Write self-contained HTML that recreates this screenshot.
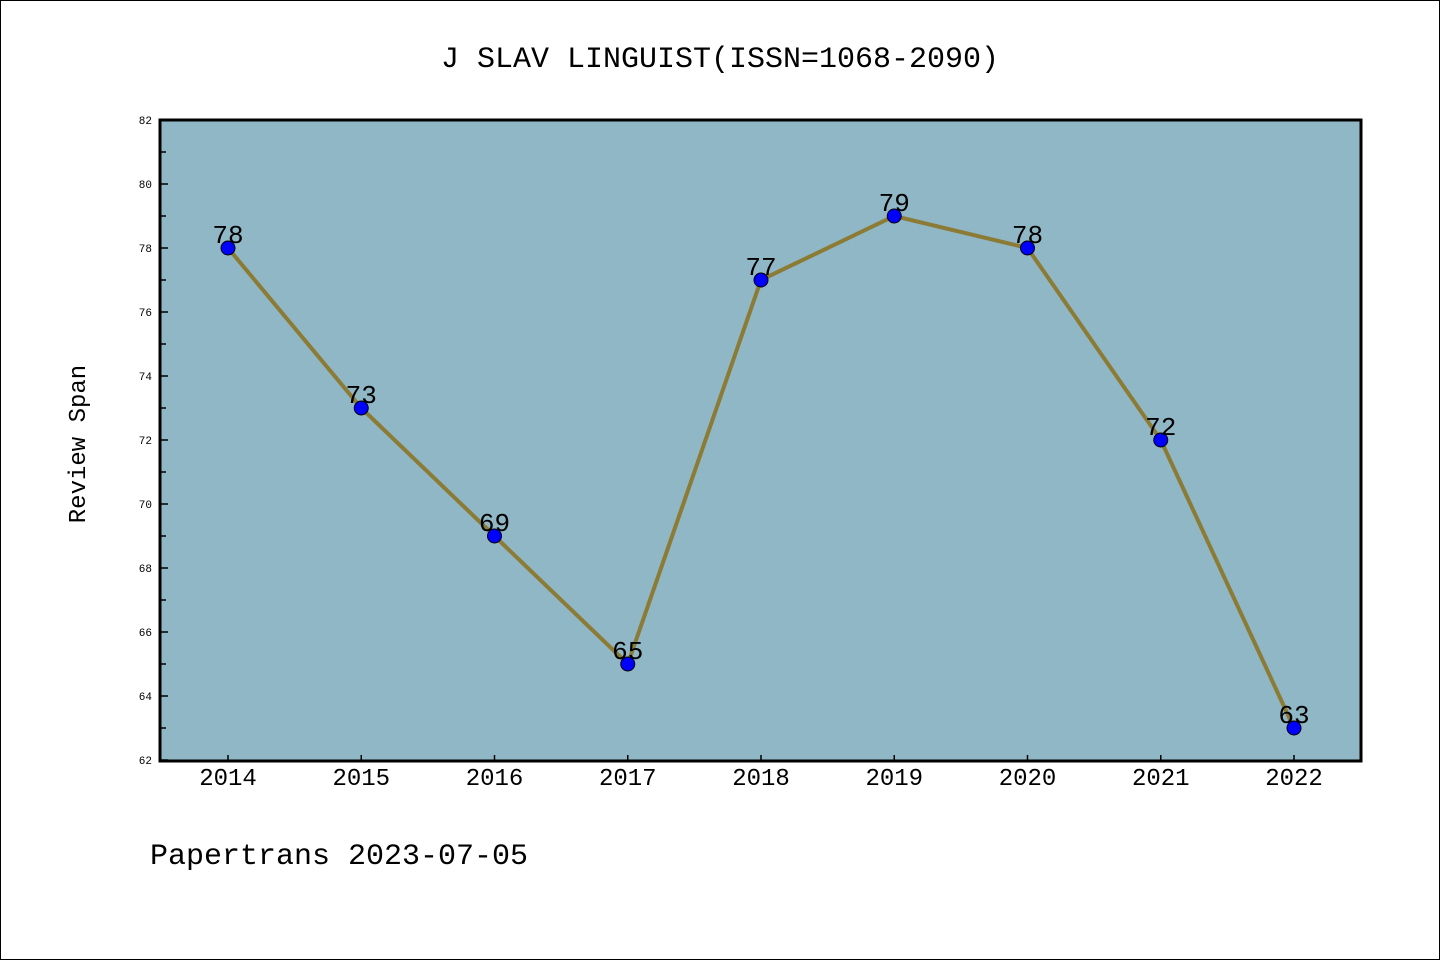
<!DOCTYPE html>
<html><head><meta charset="utf-8"><style>
html,body{margin:0;padding:0;background:#fff;}
svg{display:block;font-family:"Liberation Mono","WenQuanYi Zen Hei",monospace;}
</style></head><body>
<svg id="chart" width="1440" height="960" viewBox="0 0 1440 960">
<rect x="0.5" y="0.5" width="1439" height="959" fill="#fff" stroke="#000"/>
<text x="720" y="67" font-size="30" text-anchor="middle">J SLAV LINGUIST(ISSN=1068-2090)</text>
<rect x="160" y="120" width="1201" height="641" fill="#8fb7c5"/>
<g id="axes"></g>
<g id="series"></g>
<rect x="160" y="120" width="1201" height="641" fill="none" stroke="#000" stroke-width="3"/>
<text x="85" y="444" font-size="24" text-anchor="middle" transform="rotate(-90 85 444)">Review Span</text>
<text x="150" y="864" font-size="30">Papertrans 2023-07-05</text>
</svg>
<script>
const years = ["2014","2015","2016","2017","2018","2019","2020","2021","2022"];
const spans = [78,73,69,65,77,79,78,72,63];
const yTicks = [62,64,66,68,70,72,74,76,78,80,82];
(function(){
const NS="http://www.w3.org/2000/svg";
const yMin=62,yMax=82,plotTop=120,plotBot=760;
function yS(v){return plotBot-(v-yMin)/(yMax-yMin)*(plotBot-plotTop);}
function xS(i){return 228+i*(1294-228)/(years.length-1);}
function mk(t,a,p){const e=document.createElementNS(NS,t);for(const k in a)e.setAttribute(k,a[k]);p.appendChild(e);return e;}
const ax=document.getElementById('axes'),se=document.getElementById('series');
yTicks.forEach(v=>{
  const y=yS(v);
  const l=mk('line',{x1:160,x2:168,y1:y,y2:y,stroke:'#000','stroke-width':1.5},ax);
  
  
  const t=mk('text',{x:152,y:y+4,'font-size':11,'text-anchor':'end'},ax);
  
  
  t.textContent=v;
  if(v<yMax){const ym=yS(v+1);
    const m=mk('line',{x1:160,x2:166,y1:ym,y2:ym,stroke:'#000','stroke-width':1.5},ax);
    
    }
});
years.forEach((yr,i)=>{
  const x=xS(i);
  const l=mk('line',{x1:x,x2:x,y1:760,y2:755,stroke:'#000','stroke-width':1.5},ax);
  
  
  const t=mk('text',{x:x,y:785,'font-size':24,'text-anchor':'middle'},ax);
  
  
  t.textContent=yr;
});
const pts=spans.map((v,i)=>xS(i)+','+yS(v)).join(' ');
const pl=mk('polyline',{points:pts,fill:'none',stroke:'#8c7b35','stroke-width':4},se);


spans.forEach((v,i)=>{
  const c=mk('circle',{cx:xS(i),cy:yS(v),r:7,fill:'#0000ff',stroke:'#000','stroke-width':1},se);
  
  
  const t=mk('text',{x:xS(i),y:yS(v)-5,'font-size':26,'text-anchor':'middle'},se);
  
  
  t.textContent=v;
});
})();
</script>
</body></html>
